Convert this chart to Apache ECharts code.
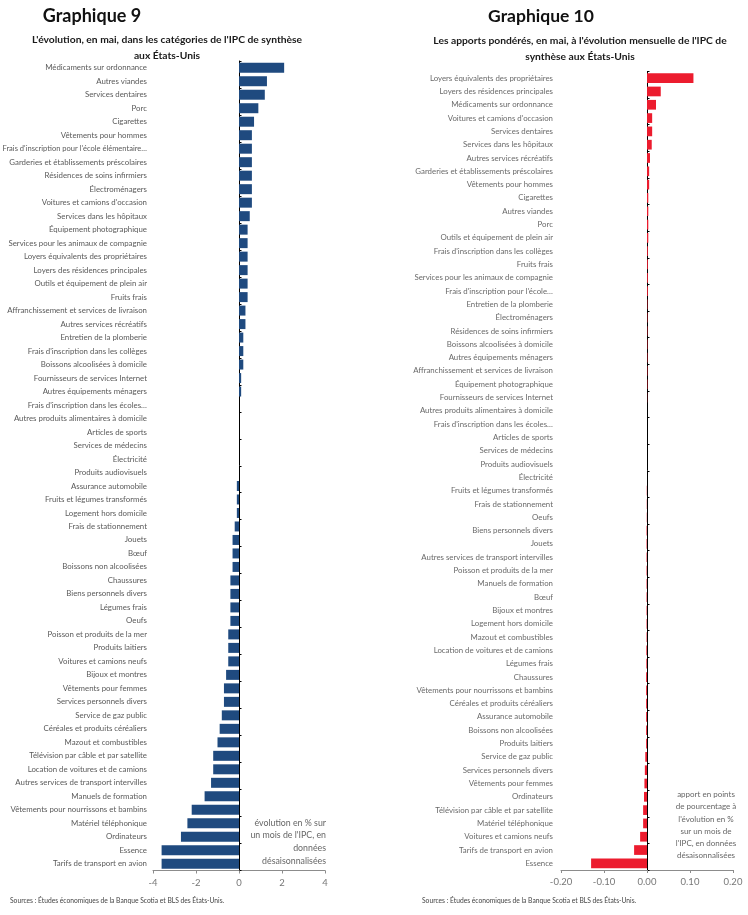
<!DOCTYPE html>
<html><head><meta charset="utf-8">
<script src="https://cdn.jsdelivr.net/npm/echarts@6/dist/echarts.min.js"></script>
<style>html,body{margin:0;padding:0;background:#fff}#c{width:748px;height:915px}</style>
</head><body><div id="c"></div>
<script>
// ---- Graphique 9 data ----
const catsLeft = [
"Médicaments sur ordonnance","Autres viandes","Services dentaires","Porc","Cigarettes",
"Vêtements pour hommes","Frais d'inscription pour l'école élémentaire…","Garderies et établissements préscolaires",
"Résidences de soins infirmiers","Électroménagers","Voitures et camions d'occasion","Services dans les hôpitaux",
"Équipement photographique","Services pour les animaux de compagnie","Loyers équivalents des propriétaires",
"Loyers des résidences principales","Outils et équipement de plein air","Fruits frais",
"Affranchissement et services de livraison","Autres services récréatifs","Entretien de la plomberie",
"Frais d'inscription dans les collèges","Boissons alcoolisées à domicile","Fournisseurs de services Internet",
"Autres équipements ménagers","Frais d'inscription dans les écoles…","Autres produits alimentaires à domicile",
"Articles de sports","Services de médecins","Électricité","Produits audiovisuels","Assurance automobile",
"Fruits et légumes transformés","Logement hors domicile","Frais de stationnement","Jouets","Bœuf",
"Boissons non alcoolisées","Chaussures","Biens personnels divers","Légumes frais","Oeufs",
"Poisson et produits de la mer","Produits laitiers","Voitures et camions neufs","Bijoux et montres",
"Vêtements pour femmes","Services personnels divers","Service de gaz public","Céréales et produits céréaliers",
"Mazout et combustibles","Télévision par câble et par satellite","Location de voitures et de camions",
"Autres services de transport intervilles","Manuels de formation","Vêtements pour nourrissons et bambins",
"Matériel téléphonique","Ordinateurs","Essence","Tarifs de transport en avion"];
const valsLeft = [
2.1,1.3,1.2,0.9,0.7,
0.6,0.6,0.6,0.6,0.6,0.6,0.5,
0.4,0.4,0.4,0.4,0.4,0.4,
0.3,0.3,0.2,0.2,0.2,0.1,0.1,
0,0,0,0,0,0,
-0.1,-0.1,-0.1,-0.2,-0.3,-0.3,-0.3,
-0.4,-0.4,-0.4,-0.4,-0.5,-0.5,-0.5,-0.6,
-0.7,-0.7,-0.8,-0.9,-1.0,-1.2,-1.2,-1.3,-1.6,-2.2,-2.4,-2.7,-3.6,-3.6];
const ticksLeft = [-4,-2,0,2,4];

// ---- Graphique 10 data ----
const catsRight = [
"Loyers équivalents des propriétaires","Loyers des résidences principales","Médicaments sur ordonnance",
"Voitures et camions d'occasion","Services dentaires","Services dans les hôpitaux","Autres services récréatifs",
"Garderies et établissements préscolaires","Vêtements pour hommes","Cigarettes","Autres viandes","Porc",
"Outils et équipement de plein air","Frais d'inscription dans les collèges","Fruits frais",
"Services pour les animaux de compagnie","Frais d'inscription pour l'école…","Entretien de la plomberie",
"Électroménagers","Résidences de soins infirmiers","Boissons alcoolisées à domicile","Autres équipements ménagers",
"Affranchissement et services de livraison","Équipement photographique","Fournisseurs de services Internet",
"Autres produits alimentaires à domicile","Frais d'inscription dans les écoles…","Articles de sports",
"Services de médecins","Produits audiovisuels","Électricité","Fruits et légumes transformés",
"Frais de stationnement","Oeufs","Biens personnels divers","Jouets","Autres services de transport intervilles",
"Poisson et produits de la mer","Manuels de formation","Bœuf","Bijoux et montres","Logement hors domicile",
"Mazout et combustibles","Location de voitures et de camions","Légumes frais","Chaussures",
"Vêtements pour nourrissons et bambins","Céréales et produits céréaliers","Assurance automobile",
"Boissons non alcoolisées","Produits laitiers","Service de gaz public","Services personnels divers",
"Vêtements pour femmes","Ordinateurs","Télévision par câble et par satellite","Matériel téléphonique",
"Voitures et camions neufs","Tarifs de transport en avion","Essence"];
const valsRight = [
0.108,0.032,0.021,0.012,0.012,0.011,0.007,0.005,0.005,0.003,0.003,0.003,
0.003,0.002,0.002,0.002,0.002,0.001,0.001,0.001,0.001,0.001,0.001,0.001,0.0005,
0,0,0,0,0,0,-0.0005,-0.0005,-0.0005,-0.001,-0.001,-0.001,-0.001,-0.001,-0.001,-0.001,-0.001,
-0.001,-0.0015,-0.0015,-0.002,-0.002,-0.002,-0.002,-0.002,-0.002,-0.004,-0.005,-0.006,-0.007,
-0.009,-0.009,-0.016,-0.030,-0.130];
const ticksRight = [-0.2,-0.1,0,0.1,0.2];

const labelFont = "Lato,sans-serif";
const titleFont = "Lato,sans-serif";

const chart = echarts.init(document.getElementById('c'), null, {renderer:'canvas'});

function xAxisFor(gi, ticks, dec) {
  return {
    type:'value', gridIndex: gi,
    min: ticks[0], max: ticks[ticks.length-1], interval: ticks[1]-ticks[0],
    splitLine:{show:false},
    axisLine:{show:true, onZero:false, lineStyle:{color:'#8c8c8c', width:1}},
    axisTick:{show:true, length:3, lineStyle:{color:'#8c8c8c'}},
    axisLabel:{color:'#777', fontSize:9.5, fontFamily:labelFont, margin:7,
      formatter: v => dec ? v.toFixed(dec) : String(v)}
  };
}
function yAxesFor(gi, cats, labelColor, margin) {
  return [
    { type:'category', gridIndex: gi, data: cats, inverse:true,
      axisLine:{show:false, onZero:false}, axisTick:{show:false},
      axisLabel:{color:labelColor, fontSize:7.85, fontFamily:labelFont, margin:margin, interval:0,
        formatter: v => v.length > 42 ? '{s|' + v + '}' : v,
        rich:{ s:{fontSize:7.55, fontFamily:labelFont, color:labelColor} } } },
    { type:'category', gridIndex: gi, data: cats, inverse:true, position:'right',
      axisLine:{show:true, onZero:true, lineStyle:{color:'#000', width:1}},
      axisTick:{show:true, length:2.5, lineStyle:{color:'#000'}},
      axisLabel:{show:false} }
  ];
}

const yL = yAxesFor(0, catsLeft, '#5a5a5a', 6);
const yR = yAxesFor(1, catsRight, '#6a6a6a', 8);

function txt(x, y, text, size, weight, color, align, font) {
  return {type:'text', x:x, y:y, style:{text:text, fontSize:size, fontWeight:weight, fill:color,
    fontFamily:font||titleFont, align:align||'center', verticalAlign:'middle'}};
}

chart.setOption({
  animation:false,
  grid:[
    {left:153, right:423, top:61, bottom:44.5, outerBoundsMode:'none', containLabel:false},
    {left:561, right:15, top:71.5, bottom:45, outerBoundsMode:'none', containLabel:false}
  ],
  xAxis:[ xAxisFor(0, ticksLeft, 0), xAxisFor(1, ticksRight, 2) ],
  yAxis:[ yL[0], yL[1], yR[0], yR[1] ],
  series:[
    {type:'bar', xAxisIndex:0, yAxisIndex:0, data:valsLeft, barCategoryGap:'26%',
      itemStyle:{color:'#1f4a7f'}},
    {type:'bar', xAxisIndex:1, yAxisIndex:2, data:valsRight, barCategoryGap:'27%',
      itemStyle:{color:'#ec1c2e'}}
  ],
  graphic:[
    txt(92, 16, 'Graphique 9', 18, 'bold', '#111'),
    txt(167, 40, "L'évolution, en mai, dans les catégories de l'IPC de synthèse", 10.3, 'bold', '#1a1a1a'),
    txt(167, 56, "aux États-Unis", 10.3, 'bold', '#1a1a1a'),
    txt(541, 16, 'Graphique 10', 17.5, 'bold', '#111'),
    txt(580, 41, "Les apports pondérés, en mai, à l'évolution mensuelle de l'IPC de", 10.3, 'bold', '#1a1a1a'),
    txt(580, 57, "synthèse aux États-Unis", 10.3, 'bold', '#1a1a1a'),
    txt(326, 822.7, "évolution en % sur", 8.8, 'normal', '#666', 'right', labelFont),
    txt(326, 835.5, "un mois de l'IPC, en", 8.8, 'normal', '#666', 'right', labelFont),
    txt(326, 848.3, "données", 8.8, 'normal', '#666', 'right', labelFont),
    txt(326, 861.2, "désaisonnalisées", 8.8, 'normal', '#666', 'right', labelFont),
    txt(706, 794, "apport en points", 8, 'normal', '#666', 'center', labelFont),
    txt(706, 806.5, "de pourcentage à", 8, 'normal', '#666', 'center', labelFont),
    txt(706, 819, "l'évolution en %", 8, 'normal', '#666', 'center', labelFont),
    txt(706, 831.5, "sur un mois de", 8, 'normal', '#666', 'center', labelFont),
    txt(706, 843.5, "l'IPC, en données", 8, 'normal', '#666', 'center', labelFont),
    txt(706, 855.5, "désaisonnalisées", 8, 'normal', '#666', 'center', labelFont),
    txt(10, 901, "Sources : Études économiques de la Banque Scotia et BLS des États-Unis.", 6.7, 'normal', '#444', 'left', labelFont),
    txt(422, 901, "Sources : Études économiques de la Banque Scotia et BLS des États-Unis.", 6.7, 'normal', '#444', 'left', labelFont)
  ]
});
</script></body></html>
